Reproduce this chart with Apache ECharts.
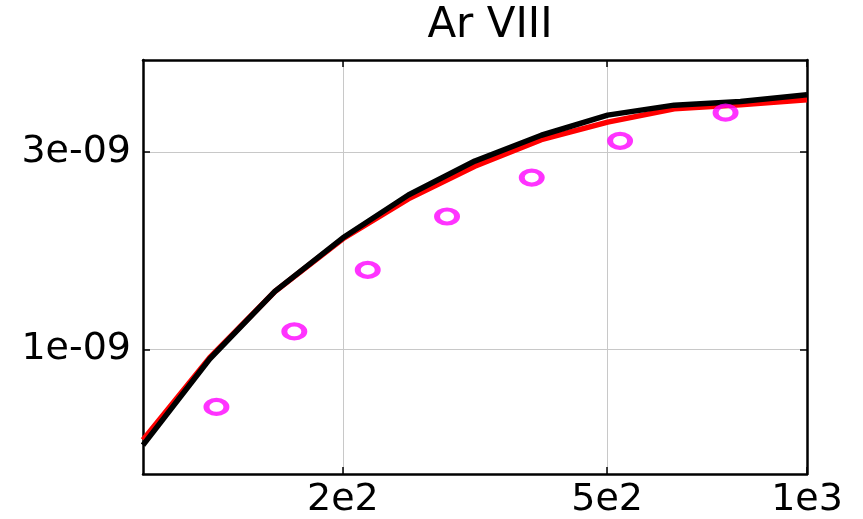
<!DOCTYPE html>
<html>
<head>
<meta charset="utf-8">
<script src="https://cdn.jsdelivr.net/npm/echarts@6/dist/echarts.min.js"></script>
<style>
  html, body { margin: 0; padding: 0; background: #fff; }
  #chart { width: 863px; height: 519px; }
</style>
</head>
<body>
<div id="chart"></div>
<script>
// Ar VIII rate coefficient vs temperature (log-log)
const temps = [100, 126, 158, 200, 251, 316, 398, 501, 631, 794, 1000];
const rateBlack = [5.87e-10, 9.48e-10, 1.38e-9, 1.86e-9, 2.36e-9, 2.85e-9, 3.29e-9, 3.68e-9, 3.89e-9, 3.97e-9, 4.12e-9];
const rateRed   = [6.04e-10, 9.55e-10, 1.38e-9, 1.85e-9, 2.31e-9, 2.77e-9, 3.21e-9, 3.54e-9, 3.81e-9, 3.90e-9, 4.01e-9];
const measTemps = [129, 169, 218, 287, 385, 523, 754];
const measRate  = [7.26e-10, 1.105e-9, 1.556e-9, 2.094e-9, 2.60e-9, 3.19e-9, 3.73e-9];

const xTicks = [200, 500, 1000];
const xTickLabels = ['2e2', '5e2', '1e3'];
const yTicks = [1e-9, 3e-9];
const yTickLabels = ['1e-09', '3e-09'];

const FONT = 'DejaVu Sans';
const frame = { show: true, lineStyle: { color: '#000', width: 2.5 } };

function pair(xs, ys) { return xs.map((x, i) => [x, ys[i]]); }
function labelFor(ticks, labels) {
  return v => {
    const i = ticks.findIndex(t => Math.abs(Math.log10(t) - Math.log10(v)) < 1e-6);
    return i >= 0 ? labels[i] : '';
  };
}

const chart = echarts.init(document.getElementById('chart'), null, { renderer: 'canvas' });
chart.setOption({
  animation: false,
  backgroundColor: '#fff',
  title: {
    text: 'Ar VIII',
    left: 485, top: 0, textAlign: 'center',
    textStyle: { fontFamily: FONT, fontSize: 42, fontWeight: 'normal', color: '#000' }
  },
  grid: { left: 143, right: 56, top: 60, bottom: 45 },
  xAxis: [{
    type: 'log', min: 100, max: 1000, position: 'bottom',
    axisLine: frame,
    axisTick: { show: true, inside: true, length: 7, customValues: xTicks, lineStyle: { color: '#000', width: 1.5 } },
    axisLabel: { customValues: xTicks, formatter: labelFor(xTicks, xTickLabels), margin: 7,
      fontFamily: FONT, fontSize: 38, color: '#000' },
    splitLine: { show: true, lineStyle: { color: '#c8c8c8', width: 1 } },
    minorTick: { show: false }
  }, {
    type: 'log', min: 100, max: 1000, position: 'top',
    axisLine: frame,
    axisTick: { show: true, inside: true, length: 7, customValues: xTicks, lineStyle: { color: '#000', width: 1.5 } },
    axisLabel: { show: false },
    splitLine: { show: false }
  }],
  yAxis: [{
    type: 'log', min: 5e-10, max: 5e-9, position: 'left',
    axisLine: frame,
    axisTick: { show: true, inside: true, length: 7, customValues: yTicks, lineStyle: { color: '#000', width: 1.5 } },
    axisLabel: { customValues: yTicks, formatter: labelFor(yTicks, yTickLabels), margin: 12,
      fontFamily: FONT, fontSize: 38, color: '#000' },
    splitLine: { show: true, lineStyle: { color: '#c8c8c8', width: 1 } }
  }, {
    type: 'log', min: 5e-10, max: 5e-9, position: 'right',
    axisLine: frame,
    axisTick: { show: true, inside: true, length: 7, customValues: yTicks, lineStyle: { color: '#000', width: 1.5 } },
    axisLabel: { show: false },
    splitLine: { show: false }
  }],
  series: [{
    type: 'line', data: pair(temps, rateRed), showSymbol: false, symbol: 'none',
    lineStyle: { color: '#ff0000', width: 5.5 }, z: 2
  }, {
    type: 'line', data: pair(temps, rateBlack), showSymbol: false, symbol: 'none',
    lineStyle: { color: '#000', width: 5.5 }, z: 3
  }, {
    type: 'scatter', data: pair(measTemps, measRate), symbol: 'circle', symbolSize: [20, 14],
    itemStyle: { color: 'rgba(0,0,0,0)', borderColor: '#ff00ff', borderWidth: 5 }, z: 4
  }]
});
</script>
</body>
</html>
